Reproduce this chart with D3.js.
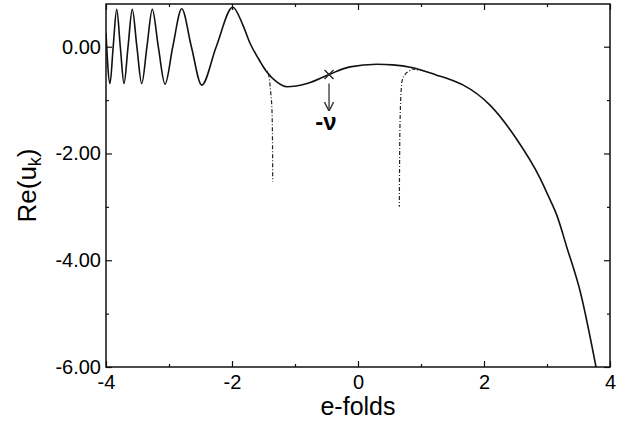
<!DOCTYPE html>
<html>
<head>
<meta charset="utf-8">
<script src="https://cdn.jsdelivr.net/npm/d3@7"></script>
<style>
  body { margin: 0; background: #fff; }
  svg text { font-family: "Liberation Sans", Arial, Helvetica, sans-serif; fill: #000; }
</style>
</head>
<body>
<div class="canvas"></div>
<script>
// main mode function (e-folds, Re(u_k))
const foldsMain = [-4.00, -3.937, -3.886, -3.830, -3.773, -3.714, -3.650, -3.583, -3.510, -3.433,
    -3.350, -3.265, -3.170, -3.063, -2.940, -2.798, -2.645, -2.481, -2.25, -1.989,
    -1.825, -1.714, -1.582, -1.45, -1.29, -1.13, -0.81, -0.46, -0.127, 0.30,
    0.55, 0.852, 1.249, 1.46, 1.672, 2.095, 2.5, 2.889, 3.05, 3.154,
    3.313, 3.53, 3.778]
const reMain = [0.25, -0.69, 0.0, 0.70, 0.0, -0.69, 0.0, 0.70, 0.0, -0.69,
    0.0, 0.70, 0.0, -0.70, 0.0, 0.71, 0.0, -0.72, 0.0, 0.74,
    0.40, 0.065, -0.22, -0.47, -0.66, -0.75, -0.69, -0.52, -0.378, -0.328,
    -0.34, -0.39, -0.533, -0.614, -0.72, -1.095, -1.70, -2.46, -2.87, -3.15,
    -3.75, -4.60, -6.00]

// approximations that blow up (dash-dot)
const foldsApproxA = [-1.58, -1.50, -1.424, -1.39, -1.365, -1.357, -1.354]
const reApproxA = [-0.22, -0.38, -0.50, -0.80, -1.20, -1.80, -2.53]
const foldsApproxB = [1.05, 0.852, 0.76, 0.694, 0.667, 0.66, 0.656]
const reApproxB = [-0.45, -0.41, -0.50, -0.683, -1.43, -2.20, -3.00]

// marked point
const markFold = -0.46
const markRe = -0.52
const markLabel = '-ν'

const xTicks = [-4, -2, 0, 2, 4]
const xMinor = [-3, -1, 1, 3]
const yTicks = [0, -2, -4, -6]
const yMinor = [-1, -3, -5]

const svg = d3.select('.canvas')
    .append('svg')
    .attr('width', 626)
    .attr('height', 421)

const margin = {top: 4, right: 16, bottom: 54, left: 106}
const graphWidth = 626 - margin.left - margin.right
const graphHeight = 421 - margin.top - margin.bottom

const graph = svg.append('g')
    .attr('transform', `translate(${margin.left}, ${margin.top})`)

const x = d3.scaleLinear().domain([-4, 4]).range([0, graphWidth])
const y = d3.scaleLinear().domain([-6, 0.8]).range([graphHeight, 0])

// axes on all four sides, ticks pointing inward
const axisStyle = g => {
    g.select('.domain').remove()
    g.selectAll('line').attr('stroke', '#111').attr('stroke-width', 1.2)
    g.selectAll('text').style('font-size', '20px')
}

graph.append('g')
    .attr('transform', `translate(0, ${graphHeight})`)
    .call(d3.axisBottom(x).tickValues(xTicks).tickSize(-6).tickPadding(8).tickFormat(d => String(d)))
    .call(axisStyle)
graph.append('g')
    .attr('transform', `translate(0, ${graphHeight})`)
    .call(d3.axisBottom(x).tickValues(xMinor).tickSize(-3).tickFormat(''))
    .call(axisStyle)
graph.append('g')
    .call(d3.axisTop(x).tickValues(xTicks).tickSize(-6).tickFormat(''))
    .call(axisStyle)
graph.append('g')
    .call(d3.axisTop(x).tickValues(xMinor).tickSize(-3).tickFormat(''))
    .call(axisStyle)

graph.append('g')
    .call(d3.axisLeft(y).tickValues(yTicks).tickSize(-6).tickPadding(5).tickFormat(d => d.toFixed(2).replace('−', '-')))
    .call(axisStyle)
graph.append('g')
    .call(d3.axisLeft(y).tickValues(yMinor).tickSize(-3).tickFormat(''))
    .call(axisStyle)
graph.append('g')
    .attr('transform', `translate(${graphWidth}, 0)`)
    .call(d3.axisRight(y).tickValues(yTicks).tickSize(-6).tickFormat(''))
    .call(axisStyle)
graph.append('g')
    .attr('transform', `translate(${graphWidth}, 0)`)
    .call(d3.axisRight(y).tickValues(yMinor).tickSize(-3).tickFormat(''))
    .call(axisStyle)

// frame
graph.append('rect')
    .attr('width', graphWidth)
    .attr('height', graphHeight)
    .attr('fill', 'none')
    .attr('stroke', '#111')
    .attr('stroke-width', 1.5)

const clip = svg.append('clipPath').attr('id', 'plot')
clip.append('rect').attr('width', graphWidth).attr('height', graphHeight)

const line = d3.line()
    .x(d => x(d[0]))
    .y(d => y(d[1]))
    .curve(d3.curveMonotoneX)

const lineY = d3.line()
    .x(d => x(d[0]))
    .y(d => y(d[1]))
    .curve(d3.curveMonotoneY)

const plot = graph.append('g').attr('clip-path', 'url(#plot)')

plot.append('path')
    .datum(d3.zip(foldsApproxA, reApproxA))
    .attr('d', lineY)
    .attr('fill', 'none')
    .attr('stroke', '#222')
    .attr('stroke-width', 1.2)
    .attr('stroke-dasharray', '4,2,1,2')

plot.append('path')
    .datum(d3.zip(foldsApproxB, reApproxB))
    .attr('d', lineY)
    .attr('fill', 'none')
    .attr('stroke', '#222')
    .attr('stroke-width', 1.2)
    .attr('stroke-dasharray', '4,2,1,2')

plot.append('path')
    .datum(d3.zip(foldsMain, reMain))
    .attr('d', line)
    .attr('fill', 'none')
    .attr('stroke', '#111')
    .attr('stroke-width', 1.6)

// cross marker, arrow and label
const mx = x(markFold), my = y(markRe)
graph.append('path')
    .attr('d', `M${mx - 4.5},${my - 4.5}L${mx + 4.5},${my + 4.5}M${mx - 4.5},${my + 4.5}L${mx + 4.5},${my - 4.5}`)
    .attr('stroke', '#222')
    .attr('stroke-width', 1.3)

svg.append('defs').append('marker')
    .attr('id', 'head')
    .attr('viewBox', '0 0 10 10')
    .attr('refX', 9).attr('refY', 5)
    .attr('markerWidth', 7).attr('markerHeight', 7)
    .attr('orient', 'auto')
    .append('path')
    .attr('d', 'M0,0L10,5L0,10')
    .attr('fill', 'none')
    .attr('stroke', '#333')
    .attr('stroke-width', 1.5)

graph.append('line')
    .attr('x1', mx).attr('x2', mx)
    .attr('y1', y(-0.69)).attr('y2', y(-1.19))
    .attr('stroke', '#333')
    .attr('stroke-width', 1.3)
    .attr('marker-end', 'url(#head)')

graph.append('text')
    .attr('x', mx - 3)
    .attr('y', y(-1.19) + 20)
    .attr('text-anchor', 'middle')
    .style('font-size', '24px')
    .style('font-weight', 'bold')
    .text(markLabel)

// axis titles
svg.append('text')
    .attr('x', margin.left + graphWidth / 2)
    .attr('y', 415)
    .attr('text-anchor', 'middle')
    .style('font-size', '25px')
    .text('e-folds')

svg.append('text')
    .attr('transform', `translate(36, ${margin.top + graphHeight / 2}) rotate(-90)`)
    .attr('text-anchor', 'middle')
    .style('font-size', '26px')
    .html('Re(u<tspan baseline-shift="-25%" font-size="18px">k</tspan>)')
</script>
</body>
</html>
